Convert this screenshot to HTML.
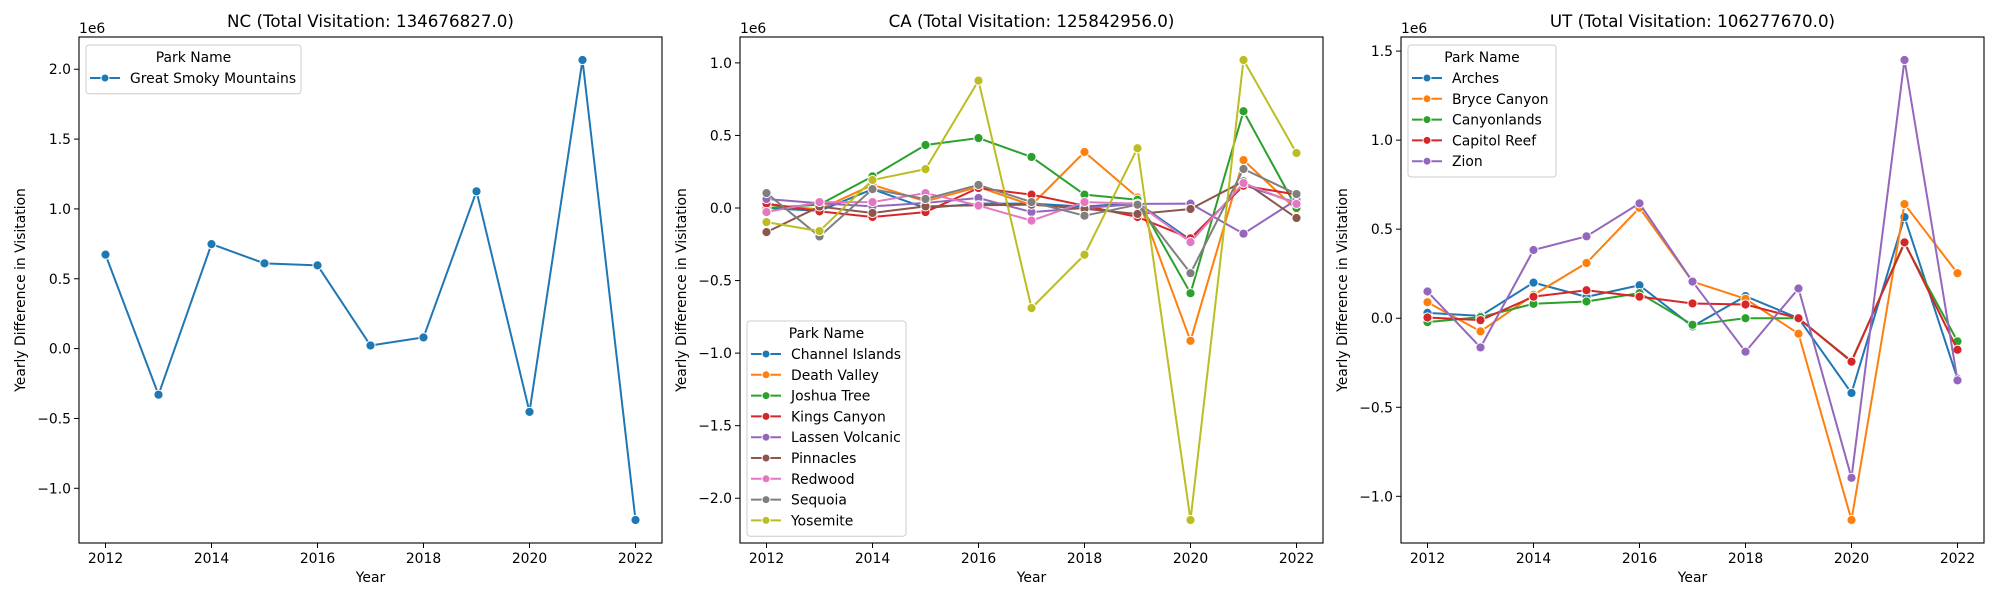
<!DOCTYPE html>
<html><head><meta charset="utf-8"><style>
body{margin:0;background:#fff}
svg{display:block;font-family:"DejaVu Sans","Liberation Sans",sans-serif}
</style></head><body>
<svg id="chart" width="2000" height="600" viewBox="0 0 2000 600" xmlns="http://www.w3.org/2000/svg"></svg>
<script>
const years = [2012,2013,2014,2015,2016,2017,2018,2019,2020,2021,2022];
const xTicks = [2012,2014,2016,2018,2020,2022];
const ncNames = ["Great Smoky Mountains"];
const ncSmoky = [0.673,-0.33,0.748,0.61,0.596,0.022,0.08,1.126,-0.453,2.066,-1.227];
const caNames = ["Channel Islands","Death Valley","Joshua Tree","Kings Canyon","Lassen Volcanic","Pinnacles","Redwood","Sequoia","Yosemite"];
const caChannel = [0.0,-0.02,0.13,0.0,0.03,0.03,0.01,0.035,-0.22,0.16,0.035];
const caDeath = [0.025,-0.01,0.16,0.046,0.145,0.02,0.386,0.073,-0.915,0.33,-0.011];
const caJoshua = [0.0,0.023,0.218,0.434,0.482,0.352,0.092,0.057,-0.587,0.667,0.0];
const caKings = [0.03,-0.023,-0.062,-0.028,0.138,0.092,0.016,-0.062,-0.209,0.154,0.092];
const caLassen = [0.062,0.033,0.011,0.035,0.069,-0.028,0.0,0.028,0.03,-0.177,0.057];
const caPinnacles = [-0.166,0.01,-0.034,0.011,0.019,0.023,-0.005,-0.041,-0.007,0.184,-0.069];
const caRedwood = [-0.028,0.041,0.041,0.103,0.017,-0.087,0.041,0.03,-0.235,0.172,0.028];
const caSequoia = [0.103,-0.196,0.13,0.062,0.159,0.041,-0.053,0.023,-0.449,0.269,0.096];
const caYosemite = [-0.097,-0.159,0.193,0.268,0.878,-0.69,-0.322,0.412,-2.15,1.02,0.379];
const utNames = ["Arches","Bryce Canyon","Canyonlands","Capitol Reef","Zion"];
const utArches = [0.03,0.013,0.2,0.12,0.185,-0.046,0.124,0.0,-0.42,0.568,-0.34];
const utBryce = [0.09,-0.074,0.131,0.31,0.62,0.206,0.109,-0.087,-1.133,0.641,0.253];
const utCanyon = [-0.022,0.006,0.081,0.094,0.141,-0.037,0.0,0.0,-0.24,0.42,-0.13];
const utCapitol = [0.004,-0.011,0.121,0.157,0.121,0.083,0.077,0.0,-0.244,0.426,-0.177];
const utZion = [0.15,-0.164,0.383,0.46,0.645,0.206,-0.188,0.167,-0.896,1.45,-0.349];
const ncTicks = [-1.0,-0.5,0.0,0.5,1.0,1.5,2.0];
const caTicks = [-2.0,-1.5,-1.0,-0.5,0.0,0.5,1.0];
const utTicks = [-1.0,-0.5,0.0,0.5,1.0,1.5];
const colors = ["#1f77b4","#ff7f0e","#2ca02c","#d62728","#9467bd","#8c564b","#e377c2","#7f7f7f","#bcbd22"];

const NS="http://www.w3.org/2000/svg";
const svg=document.getElementById('chart');
function mk(tag,attrs,parent){const e=document.createElementNS(NS,tag);for(const k in attrs)e.setAttribute(k,attrs[k]);(parent||svg).appendChild(e);return e;}
function txt(s,attrs,parent){const e=mk('text',attrs,parent);e.textContent=s;return e;}

function panel(key,left,title,names,series,yTicks,legendPos){
  const right=left+583, top=37, bottom=543;
  let mn=Infinity,mx=-Infinity;
  series.forEach(s=>s.forEach(v=>{mn=Math.min(mn,v);mx=Math.max(mx,v);}));
  const pad=(mx-mn)*0.05, y0=mn-pad, y1=mx+pad;
  const x0=years[0]-0.5, x1=years[years.length-1]+0.5;
  const X=v=>left+(v-x0)/(x1-x0)*(right-left);
  const Y=v=>bottom-(v-y0)/(y1-y0)*(bottom-top);
  const g=mk('g',{});
  
  
  const t=txt(title,{x:(left+right)/2,y:27,'text-anchor':'middle','font-size':16.7,fill:'#000'},g);
  
  
  const m=txt('1e6',{x:left,y:33,'font-size':13.9,fill:'#000'},g);
  
  
  xTicks.forEach(v=>{
    mk('line',{x1:X(v),x2:X(v),y1:bottom,y2:bottom+5,stroke:'#000','stroke-width':1},g);
    const l=txt(String(v),{x:X(v),y:bottom+20,'text-anchor':'middle','font-size':13.9},g);
    
    
  });
  yTicks.forEach(v=>{
    mk('line',{x1:left-5,x2:left,y1:Y(v),y2:Y(v),stroke:'#000','stroke-width':1},g);
    const l=txt(v.toFixed(1).replace('-','\u2212'),{x:left-8,y:Y(v)+5,'text-anchor':'end','font-size':13.9},g);
    
    
  });
  const xl=txt('Year',{x:(left+right)/2,y:582,'text-anchor':'middle','font-size':13.9},g);
  
  
  const yx=left-54, yy=(top+bottom)/2;
  const yl=txt('Yearly Difference in Visitation',{x:yx,y:yy,'text-anchor':'middle','font-size':13.9,transform:`rotate(-90 ${yx} ${yy})`},g);
  
  
  series.forEach((s,i)=>{
    const sg=mk('g',{},g);
    
    
    mk('polyline',{points:s.map((v,j)=>X(years[j])+','+Y(v)).join(' '),fill:'none',stroke:colors[i],'stroke-width':2,'stroke-linejoin':'round'},sg);
    s.forEach((v,j)=>{
      const c=mk('circle',{cx:X(years[j]),cy:Y(v),r:4.6,fill:colors[i],stroke:'#fff','stroke-width':1},sg);
      
      
    });
  });
  mk('rect',{x:left,y:top,width:right-left,height:bottom-top,fill:'none',stroke:'#000','stroke-width':1.1},g);
  const [lx,ly,lw]=legendPos;
  const lh=28+names.length*20.8;
  const lg=mk('g',{},g);
  
  
  mk('rect',{x:lx,y:ly,width:lw,height:lh,rx:3,fill:'#fff','fill-opacity':0.8,stroke:'#ccc','stroke-width':1},lg);
  txt('Park Name',{x:lx+lw/2,y:ly+17,'text-anchor':'middle','font-size':13.9},lg);
  names.forEach((n,i)=>{
    const ry=ly+33+i*20.8;
    const e=mk('g',{},lg);
    
    
    mk('line',{x1:lx+4,x2:lx+34,y1:ry,y2:ry,stroke:colors[i],'stroke-width':2},e);
    mk('circle',{cx:lx+19,cy:ry,r:4,fill:colors[i],stroke:'#fff','stroke-width':1},e);
    txt(n,{x:lx+44,y:ry+5,'font-size':13.9},e);
  });
}
panel('nc',79,'NC (Total Visitation: 134676827.0)',ncNames,[ncSmoky],ncTicks,[86,45,215]);
panel('ca',740,'CA (Total Visitation: 125842956.0)',caNames,[caChannel,caDeath,caJoshua,caKings,caLassen,caPinnacles,caRedwood,caSequoia,caYosemite],caTicks,[747,321,159]);
panel('ut',1401,'UT (Total Visitation: 106277670.0)',utNames,[utArches,utBryce,utCanyon,utCapitol,utZion],utTicks,[1408,45,148]);
</script>
</body></html>
